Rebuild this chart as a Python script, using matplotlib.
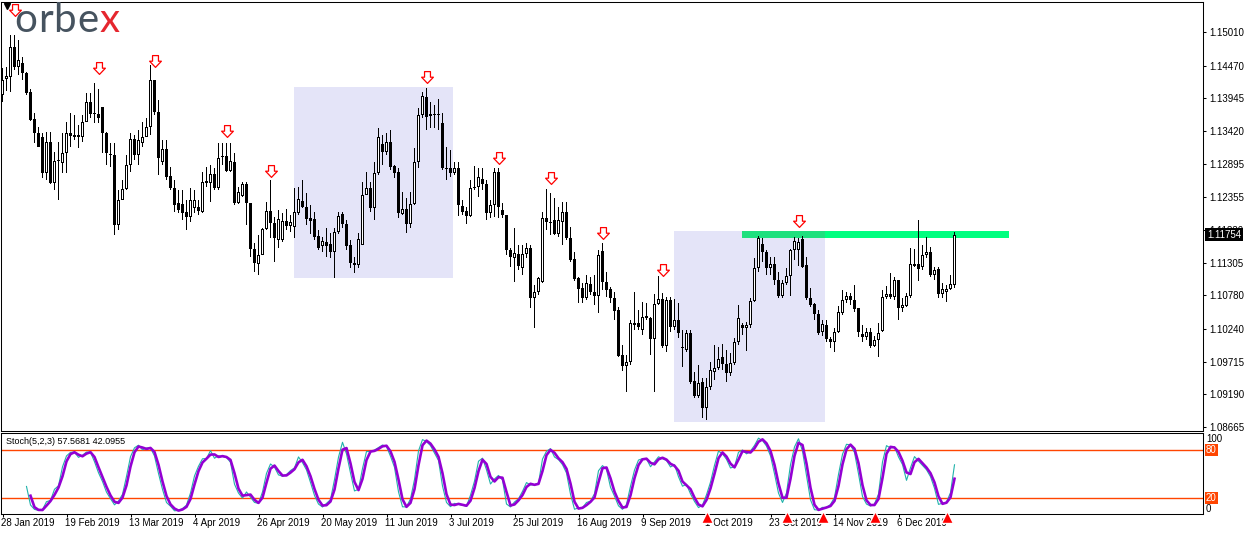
import numpy as np
import pandas as pd
import matplotlib
matplotlib.use("Agg")
import matplotlib.pyplot as plt
from matplotlib.path import Path
from matplotlib.patches import Rectangle
from matplotlib.collections import PolyCollection
from matplotlib.transforms import Affine2D, blended_transform_factory

plt.rcParams['font.family'] = ['Liberation Sans', 'DejaVu Sans']

# ---------------- data (EUR/USD daily, 28 Jan 2019 - 27 Dec 2019) ----------------
opens = [1.1400, 1.1426, 1.1429, 1.1477, 1.1445, 1.1451, 1.1435, 1.1405, 1.1361, 1.1339,
         1.1332, 1.1275, 1.1324, 1.1259, 1.1294, 1.1291, 1.1307, 1.1339, 1.1336, 1.1332,
         1.1332, 1.1356, 1.1389, 1.1371, 1.1369, 1.1381, 1.1339, 1.1305, 1.1303, 1.1191,
         1.1231, 1.1249, 1.1287, 1.1329, 1.1303, 1.1323, 1.1332, 1.1348, 1.1424, 1.1373,
         1.1292, 1.1313, 1.1270, 1.1250, 1.1226, 1.1225, 1.1212, 1.1204, 1.1218, 1.1220,
         1.1212, 1.1262, 1.1259, 1.1273, 1.1250, 1.1300, 1.1302, 1.1278, 1.1292, 1.1226,
         1.1238, 1.1257, 1.1226, 1.1153, 1.1128, 1.1143, 1.1185, 1.1214, 1.1194, 1.1167,
         1.1167, 1.1198, 1.1189, 1.1188, 1.1210, 1.1230, 1.1220, 1.1202, 1.1201, 1.1173,
         1.1157, 1.1164, 1.1161, 1.1148, 1.1180, 1.1209, 1.1193, 1.1159, 1.1130, 1.1127,
         1.1159, 1.1239, 1.1250, 1.1218, 1.1275, 1.1321, 1.1308, 1.1324, 1.1286, 1.1276,
         1.1209, 1.1217, 1.1193, 1.1225, 1.1292, 1.1368, 1.1397, 1.1366, 1.1369, 1.1369,
         1.1355, 1.1283, 1.1283, 1.1275, 1.1283, 1.1222, 1.1214, 1.1206, 1.1250, 1.1252,
         1.1265, 1.1257, 1.1210, 1.1223, 1.1276, 1.1215, 1.1207, 1.1151, 1.1138, 1.1145,
         1.1122, 1.1145, 1.1154, 1.1074, 1.1083, 1.1100, 1.1202, 1.1196, 1.1199, 1.1177,
         1.1196, 1.1212, 1.1170, 1.1136, 1.1106, 1.1090, 1.1074, 1.1096, 1.1083, 1.1077,
         1.1149, 1.1100, 1.1088, 1.1074, 1.1054, 1.0982, 1.0965, 1.0971, 1.1034, 1.1034,
         1.1022, 1.1045, 1.1042, 1.1008, 1.1064, 1.1072, 1.0997, 1.1071, 1.1027, 1.1038,
         1.0995, 1.0990, 1.1018, 1.0941, 1.0916, 1.0939, 1.0897, 1.0931, 1.0955, 1.0961,
         1.0979, 1.0968, 1.0953, 1.0969, 1.1003, 1.1030, 1.1026, 1.1030, 1.1069, 1.1122,
         1.1161, 1.1148, 1.1122, 1.1128, 1.1103, 1.1077, 1.1098, 1.1109, 1.1151, 1.1151,
         1.1169, 1.1127, 1.1074, 1.1064, 1.1048, 1.1019, 1.1030, 1.1008, 1.1003, 1.1019,
         1.1050, 1.1071, 1.1077, 1.1071, 1.1058, 1.1016, 1.1011, 1.1019, 1.0997, 1.1006,
         1.1021, 1.1075, 1.1080, 1.1075, 1.1103, 1.1058, 1.1061, 1.1077, 1.1126, 1.1128,
         1.1124, 1.1143, 1.1148, 1.1111, 1.1120, 1.1080, 1.1083, 1.1088, 1.1095]

highs = [1.1443, 1.1445, 1.1496, 1.1496, 1.1488, 1.1461, 1.1437, 1.1409, 1.1371, 1.1348,
         1.1339, 1.1340, 1.1340, 1.1308, 1.1324, 1.1339, 1.1356, 1.1371, 1.1368, 1.1352,
         1.1368, 1.1403, 1.1403, 1.1419, 1.1409, 1.1381, 1.1340, 1.1323, 1.1323, 1.1247,
         1.1263, 1.1303, 1.1339, 1.1336, 1.1344, 1.1356, 1.1363, 1.1448, 1.1424, 1.1392,
         1.1328, 1.1328, 1.1284, 1.1263, 1.1247, 1.1247, 1.1231, 1.1250, 1.1247, 1.1231,
         1.1276, 1.1284, 1.1287, 1.1283, 1.1323, 1.1323, 1.1323, 1.1323, 1.1307, 1.1252,
         1.1260, 1.1260, 1.1226, 1.1162, 1.1175, 1.1186, 1.1228, 1.1263, 1.1204, 1.1215,
         1.1210, 1.1217, 1.1207, 1.1250, 1.1252, 1.1263, 1.1242, 1.1223, 1.1212, 1.1183,
         1.1172, 1.1186, 1.1178, 1.1186, 1.1212, 1.1212, 1.1199, 1.1167, 1.1140, 1.1178,
         1.1260, 1.1276, 1.1260, 1.1292, 1.1347, 1.1336, 1.1339, 1.1344, 1.1287, 1.1283,
         1.1244, 1.1234, 1.1244, 1.1315, 1.1379, 1.1405, 1.1411, 1.1389, 1.1384, 1.1393,
         1.1371, 1.1316, 1.1312, 1.1292, 1.1292, 1.1231, 1.1220, 1.1263, 1.1286, 1.1283,
         1.1283, 1.1263, 1.1231, 1.1283, 1.1283, 1.1226, 1.1207, 1.1154, 1.1186, 1.1159,
         1.1159, 1.1162, 1.1159, 1.1095, 1.1108, 1.1212, 1.1249, 1.1242, 1.1234, 1.1220,
         1.1228, 1.1228, 1.1188, 1.1148, 1.1108, 1.1098, 1.1111, 1.1108, 1.1111, 1.1151,
         1.1162, 1.1116, 1.1091, 1.1083, 1.1059, 1.0998, 1.0982, 1.1038, 1.1083, 1.1055,
         1.1067, 1.1066, 1.1043, 1.1080, 1.1109, 1.1082, 1.1075, 1.1075, 1.1072, 1.1066,
         1.1022, 1.1022, 1.1022, 1.0955, 1.0966, 1.0945, 1.0945, 1.0971, 1.0998, 1.0995,
         1.1000, 1.0990, 1.0985, 1.1010, 1.1063, 1.1034, 1.1035, 1.1074, 1.1138, 1.1173,
         1.1170, 1.1151, 1.1140, 1.1140, 1.1116, 1.1103, 1.1122, 1.1153, 1.1172, 1.1170,
         1.1173, 1.1140, 1.1090, 1.1066, 1.1055, 1.1038, 1.1038, 1.1011, 1.1026, 1.1061,
         1.1087, 1.1083, 1.1082, 1.1095, 1.1058, 1.1030, 1.1026, 1.1026, 1.1013, 1.1034,
         1.1087, 1.1093, 1.1114, 1.1108, 1.1103, 1.1074, 1.1082, 1.1154, 1.1153, 1.1199,
         1.1159, 1.1172, 1.1156, 1.1124, 1.1124, 1.1098, 1.1095, 1.1111, 1.1180]

lows = [1.1389, 1.1406, 1.1405, 1.1440, 1.1432, 1.1424, 1.1400, 1.1358, 1.1323, 1.1316,
        1.1267, 1.1263, 1.1257, 1.1247, 1.1231, 1.1275, 1.1275, 1.1316, 1.1328, 1.1315,
        1.1324, 1.1356, 1.1363, 1.1355, 1.1355, 1.1307, 1.1287, 1.1284, 1.1175, 1.1183,
        1.1231, 1.1247, 1.1276, 1.1295, 1.1287, 1.1316, 1.1332, 1.1336, 1.1368, 1.1271,
        1.1287, 1.1263, 1.1247, 1.1212, 1.1210, 1.1199, 1.1183, 1.1196, 1.1210, 1.1207,
        1.1210, 1.1252, 1.1228, 1.1247, 1.1247, 1.1287, 1.1276, 1.1276, 1.1223, 1.1225,
        1.1236, 1.1191, 1.1140, 1.1116, 1.1111, 1.1143, 1.1183, 1.1170, 1.1132, 1.1154,
        1.1164, 1.1183, 1.1180, 1.1170, 1.1207, 1.1218, 1.1191, 1.1177, 1.1167, 1.1151,
        1.1148, 1.1140, 1.1138, 1.1106, 1.1177, 1.1186, 1.1151, 1.1122, 1.1114, 1.1122,
        1.1159, 1.1239, 1.1212, 1.1199, 1.1271, 1.1287, 1.1303, 1.1279, 1.1267, 1.1202,
        1.1207, 1.1178, 1.1186, 1.1223, 1.1283, 1.1363, 1.1344, 1.1347, 1.1347, 1.1344,
        1.1279, 1.1263, 1.1268, 1.1271, 1.1206, 1.1207, 1.1193, 1.1204, 1.1247, 1.1236,
        1.1247, 1.1199, 1.1202, 1.1204, 1.1202, 1.1202, 1.1143, 1.1124, 1.1100, 1.1119,
        1.1111, 1.1138, 1.1058, 1.1026, 1.1079, 1.1098, 1.1183, 1.1175, 1.1175, 1.1172,
        1.1159, 1.1167, 1.1132, 1.1101, 1.1066, 1.1066, 1.1071, 1.1079, 1.1063, 1.1050,
        1.1087, 1.1075, 1.1066, 1.1038, 1.0979, 1.0957, 1.0923, 1.0966, 1.1022, 1.1022,
        1.1014, 1.1038, 1.0982, 1.0923, 1.1063, 1.0994, 1.0987, 1.1019, 1.1022, 1.1010,
        1.0963, 1.0987, 1.0936, 1.0913, 1.0913, 1.0881, 1.0878, 1.0926, 1.0942, 1.0958,
        1.0958, 1.0939, 1.0949, 1.0966, 1.0998, 1.1014, 1.0989, 1.1026, 1.1067, 1.1116,
        1.1132, 1.1111, 1.1111, 1.1095, 1.1074, 1.1074, 1.1095, 1.1077, 1.1135, 1.1125,
        1.1122, 1.1071, 1.1059, 1.1038, 1.1014, 1.1013, 1.1003, 1.0994, 1.0987, 1.1018,
        1.1046, 1.1066, 1.1063, 1.1051, 1.1011, 1.1003, 1.1006, 1.0994, 1.0995, 1.0979,
        1.1019, 1.1072, 1.1072, 1.1071, 1.1038, 1.1051, 1.1059, 1.1074, 1.1124, 1.1101,
        1.1119, 1.1138, 1.1108, 1.1103, 1.1074, 1.1074, 1.1067, 1.1087, 1.1090]

closes = [1.1424, 1.1430, 1.1477, 1.1445, 1.1456, 1.1435, 1.1403, 1.1360, 1.1339, 1.1316,
          1.1275, 1.1324, 1.1259, 1.1294, 1.1295, 1.1307, 1.1339, 1.1334, 1.1332, 1.1336,
          1.1356, 1.1389, 1.1369, 1.1369, 1.1363, 1.1339, 1.1307, 1.1303, 1.1191, 1.1231,
          1.1249, 1.1287, 1.1329, 1.1303, 1.1328, 1.1332, 1.1348, 1.1424, 1.1373, 1.1299,
          1.1313, 1.1268, 1.1250, 1.1223, 1.1215, 1.1210, 1.1204, 1.1231, 1.1231, 1.1214,
          1.1260, 1.1259, 1.1273, 1.1250, 1.1299, 1.1302, 1.1278, 1.1294, 1.1226, 1.1244,
          1.1257, 1.1226, 1.1153, 1.1130, 1.1143, 1.1185, 1.1214, 1.1194, 1.1170, 1.1201,
          1.1198, 1.1189, 1.1196, 1.1212, 1.1233, 1.1220, 1.1201, 1.1198, 1.1172, 1.1154,
          1.1165, 1.1157, 1.1148, 1.1180, 1.1206, 1.1193, 1.1157, 1.1130, 1.1127, 1.1169,
          1.1239, 1.1250, 1.1218, 1.1275, 1.1332, 1.1308, 1.1324, 1.1284, 1.1275, 1.1210,
          1.1217, 1.1193, 1.1225, 1.1292, 1.1368, 1.1398, 1.1365, 1.1369, 1.1368, 1.1368,
          1.1283, 1.1281, 1.1275, 1.1283, 1.1223, 1.1212, 1.1206, 1.1250, 1.1252, 1.1268,
          1.1257, 1.1210, 1.1223, 1.1276, 1.1220, 1.1207, 1.1151, 1.1140, 1.1146, 1.1125,
          1.1145, 1.1154, 1.1074, 1.1083, 1.1106, 1.1202, 1.1196, 1.1195, 1.1177, 1.1199,
          1.1212, 1.1170, 1.1135, 1.1104, 1.1088, 1.1074, 1.1098, 1.1083, 1.1077, 1.1143,
          1.1100, 1.1087, 1.1074, 1.1053, 1.0981, 1.0965, 1.0971, 1.1034, 1.1030, 1.1027,
          1.1043, 1.1042, 1.1008, 1.1064, 1.1072, 1.0997, 1.1071, 1.1027, 1.1038, 1.1018,
          1.0994, 1.1018, 1.0939, 1.0916, 1.0937, 1.0897, 1.0931, 1.0958, 1.0961, 1.0976,
          1.0968, 1.0953, 1.0969, 1.1003, 1.1042, 1.1026, 1.1030, 1.1069, 1.1122, 1.1170,
          1.1148, 1.1122, 1.1128, 1.1103, 1.1077, 1.1098, 1.1109, 1.1151, 1.1165, 1.1164,
          1.1124, 1.1074, 1.1063, 1.1048, 1.1018, 1.1032, 1.1008, 1.1003, 1.1019, 1.1051,
          1.1071, 1.1077, 1.1071, 1.1056, 1.1019, 1.1011, 1.1019, 1.0997, 1.1006, 1.1018,
          1.1075, 1.1080, 1.1075, 1.1103, 1.1058, 1.1063, 1.1077, 1.1128, 1.1129, 1.1120,
          1.1143, 1.1148, 1.1111, 1.1119, 1.1080, 1.1088, 1.1088, 1.1096, 1.11754]

date_labels = ['28 Jan 2019', '19 Feb 2019', '13 Mar 2019', '4 Apr 2019', '26 Apr 2019',
               '20 May 2019', '11 Jun 2019', '3 Jul 2019', '25 Jul 2019', '16 Aug 2019',
               '9 Sep 2019', '1 Oct 2019', '23 Oct 2019', '14 Nov 2019', '6 Dec 2019']
date_label_bars = [0, 16, 32, 48, 64, 80, 96, 112, 128, 144, 160, 176, 192, 208, 224]

price_ticks = [1.15010, 1.14470, 1.13945, 1.13420, 1.12895, 1.12355, 1.11830,
               1.11305, 1.10780, 1.10240, 1.09715, 1.09190, 1.08665]
last_price = 1.11754

arrow_bars = [3, 24, 38, 56, 67, 106, 124, 137, 150, 165, 199]
arrow_prices = [1.1536, 1.1443, 1.1454, 1.1342, 1.1278, 1.1429, 1.1299, 1.1267, 1.1178, 1.1119, 1.1197]

signal_bars = [176, 196, 205, 218, 236]

zones = [(72.8, 112.6, 1.1106, 1.1413), (167.8, 205.6, 1.0875, 1.1181)]
level_zone = (184.8, 251.6, 1.1170, 1.1181)

stoch_k, stoch_d, stoch_slow = 5, 2, 3
stoch_levels = [80, 20]
stoch_title = "Stoch(5,2,3) 57.5681 42.0955"

# ---------------- figure ----------------
W, H = 1248, 534
fig = plt.figure(figsize=(W / 100, H / 100), dpi=100)
px = Affine2D().scale(1, -1).translate(0, H)   # pixel coords from top-left


def fx(v):
    return v / W


def fy(v):
    return 1 - v / H


L_PX, R_PX = 1.0, 1203.0
MT, MB = 2.0, 431.0      # main panel top/bottom (px)
ST, SB = 433.0, 514.0    # stochastic panel top/bottom (px)
ax = fig.add_axes([fx(L_PX), fy(MB), fx(R_PX) - fx(L_PX), fy(MT) - fy(MB)])
ax2 = fig.add_axes([fx(L_PX), fy(SB), fx(R_PX) - fx(L_PX), fy(ST) - fy(SB)])

O = np.array(opens); Hi = np.array(highs); Lo = np.array(lows); C = np.array(closes)
n = len(C)
x = np.arange(n)

BAR_PX = 4.0
xlim = (-1.5 / BAR_PX, -1.5 / BAR_PX + (R_PX - L_PX) / BAR_PX)
ylim = (1.08602, 1.15492)
ax.set_xlim(*xlim)
ax.set_ylim(*ylim)
ppx = (ylim[1] - ylim[0]) / (MB - MT)   # price per pixel

# zones
for (x0, x1, p0, p1) in zones:
    ax.add_patch(Rectangle((x0, p0), x1 - x0, p1 - p0, facecolor='#E4E4F8',
                           edgecolor='none', zorder=1))
gx0, gx1, gp0, gp1 = level_zone
ax.add_patch(Rectangle((gx0, gp0), gx1 - gx0, gp1 - gp0, facecolor='#00FF7F',
                       edgecolor='none', zorder=2, clip_on=False))
ov_x1 = zones[1][1]
ax.add_patch(Rectangle((gx0, gp0), ov_x1 - gx0, gp1 - gp0, facecolor='#1EE07E',
                       edgecolor='none', zorder=2))


def rect(xc, half, y0, y1):
    return [(xc - half, y0), (xc + half, y0), (xc + half, y1), (xc - half, y1)]


# candles: crisp pixel rectangles
wick_w = 0.5 / BAR_PX
body_w = 1.5 / BAR_PX
inner_w = 0.5 / BAR_PX
wicks, bodies, inners = [], [], []
for i in range(n):
    wicks.append(rect(x[i], wick_w, Lo[i], Hi[i]))
    b0, b1 = min(O[i], C[i]), max(O[i], C[i])
    if b1 - b0 < ppx:
        mid = (b0 + b1) / 2
        b0, b1 = mid - ppx / 2, mid + ppx / 2
    bodies.append(rect(x[i], body_w, b0, b1))
    if C[i] > O[i] and (b1 - b0) > 2.2 * ppx:
        inners.append(rect(x[i], inner_w, b0 + ppx, b1 - ppx))
ax.add_collection(PolyCollection(wicks, facecolors='black', edgecolors='none',
                                 antialiaseds=False, zorder=3))
ax.add_collection(PolyCollection(bodies, facecolors='black', edgecolors='none',
                                 antialiaseds=False, zorder=4))
ax.add_collection(PolyCollection(inners, facecolors='white', edgecolors='none',
                                 antialiaseds=False, zorder=5))

# fractal arrows
arrow_path = Path([(-0.5, 1.0), (0.5, 1.0), (0.5, 0.05), (1.0, 0.05), (0.0, -1.0),
                   (-1.0, 0.05), (-0.5, 0.05), (-0.5, 1.0)], closed=True)
ax.plot(arrow_bars, arrow_prices, ls='none', marker=arrow_path, markersize=8.5,
        markerfacecolor='white', markeredgecolor='#FF0000', markeredgewidth=0.9,
        zorder=6, clip_on=False)

# axes style
for a in (ax, ax2):
    for s in a.spines.values():
        s.set_linewidth(0.75)
        s.set_color('black')
ax.set_xticks([])
ax.yaxis.tick_right()
ax.set_yticks(price_ticks)
ax.set_yticklabels([f"{p:.5f}" for p in price_ticks])
ax.tick_params(axis='y', direction='out', length=2.2, width=0.75, pad=2.2,
               labelsize=7, colors='black')

ax.annotate(f"{last_price:.5f}", xy=(1, last_price), xycoords=('axes fraction', 'data'),
            xytext=(4, 0), textcoords='offset pixels', ha='left', va='center',
            fontsize=7, color='white', zorder=10, annotation_clip=False,
            bbox=dict(boxstyle='square,pad=0.18', facecolor='black', edgecolor='none'))

# ---------------- stochastic ----------------
hh = pd.Series(Hi).rolling(stoch_k).max()
ll = pd.Series(Lo).rolling(stoch_k).min()
num = (pd.Series(C) - ll).rolling(stoch_slow).sum()
den = (hh - ll).rolling(stoch_slow).sum()
main = 100 * num / den
signal = main.rolling(stoch_d).mean()

ax2.set_xlim(*xlim)
ax2.set_ylim(-0.5, 101)
for lv in stoch_levels:
    ax2.axhline(lv, color='#FF4500', linewidth=1.0, zorder=1)
ax2.plot(x, main, color='#20B2AA', linewidth=0.8, zorder=2)
ax2.plot(x, signal, color='#9400D3', linewidth=1.9, zorder=3)

ax2.set_yticks([])
ax2.set_xticks(date_label_bars)
ax2.set_xticklabels([])
ax2.tick_params(axis='x', direction='out', length=2.2, width=0.75)

ytr = blended_transform_factory(ax2.transAxes, ax2.transData)
ax2.annotate("100", xy=(1, 100), xycoords=ytr, xytext=(3, 0), textcoords='offset pixels',
             ha='left', va='top', fontsize=7, annotation_clip=False)
ax2.annotate("0", xy=(1, 0), xycoords=ytr, xytext=(3, 0), textcoords='offset pixels',
             ha='left', va='bottom', fontsize=7, annotation_clip=False)
for lv in stoch_levels:
    ax2.annotate(f"{lv}", xy=(1, lv), xycoords=ytr, xytext=(3, 0), textcoords='offset pixels',
                 ha='left', va='center', fontsize=7, color='white', annotation_clip=False,
                 bbox=dict(boxstyle='square,pad=0.1', facecolor='#FF4500', edgecolor='none'))

ax2.text(5 / (R_PX - L_PX), 0.90, stoch_title, transform=ax2.transAxes, ha='left',
         va='center', fontsize=6.5, color='black')

# date labels
dtr = blended_transform_factory(ax2.transData, fig.transFigure)
for b, lab in zip(date_label_bars, date_labels):
    ax2.text(b - 0.3, fy(523.5), lab, transform=dtr, ha='left', va='center',
             fontsize=7, color='black', clip_on=False, zorder=5)

# signal triangles
ax2.plot(signal_bars, [-4.8] * len(signal_bars), ls='none', marker='^', markersize=8.5,
         color='#FF0000', markeredgecolor='white', markeredgewidth=1.0,
         clip_on=False, zorder=10)

# ---------------- logo & corner marker ----------------
cx = 14.0
for ch, col in zip("orbex", ['#46535F'] * 4 + ['#E5262E']):
    t = fig.text(cx, 32, ch, transform=px, fontsize=29, family='Lato',
                 color=col, ha='left', va='baseline')
    fig.canvas.draw()
    cx = t.get_window_extent().x1 + 1.0
fig.add_artist(plt.Line2D([7], [6], transform=px, marker='v', color='black',
                          markersize=5, ls='none'))

fig.savefig("out.png", dpi=100)
